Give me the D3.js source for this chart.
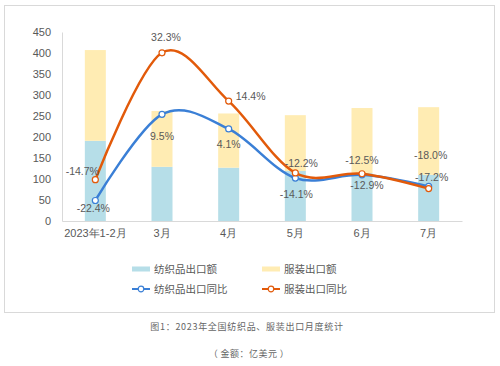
<!DOCTYPE html>
<html><head><meta charset="utf-8">
<script src="https://cdn.jsdelivr.net/npm/d3@7"></script>
<style>
html,body{margin:0;padding:0;background:#fff;}
svg{display:block;font-family:"Noto Sans CJK SC","Noto Sans",sans-serif;}
</style></head>
<body>
<svg id="chart" width="500" height="366"></svg>
<script>
const categories = ["2023年1-2月","3月","4月","5月","6月","7月"];
const textileExport = [191, 129, 127, 119, 114, 110];
const apparelExport = [216, 133, 129, 133, 155, 161];
const textileYoY = [-22.4, 9.5, 4.1, -14.1, -12.9, -17.2];
const apparelYoY = [-14.7, 32.3, 14.4, -12.2, -12.5, -18.0];
const yTicks = [0,50,100,150,200,250,300,350,400,450];
const seriesNames = ["纺织品出口额","服装出口额","纺织品出口同比","服装出口同比"];
const captionText = "图1：2023年全国纺织品、服装出口月度统计";
const unitText = "（金额：亿美元）";

(function(){
const colors = {textile:"#b6dee8", apparel:"#ffecb3", tLine:"#3a7fd6", aLine:"#e25a0a", text:"#595959"};
const svg = d3.select("#chart");

// frame
svg.append("rect").attr("x",4.5).attr("y",5.5).attr("width",490).attr("height",307)
  .attr("fill","#fff").attr("stroke","#d9d9d9").attr("stroke-width",1);

const pLeft=62, pRight=462, pTop=32, pBottom=221;
const x = d3.scaleBand().domain(categories).range([pLeft,pRight]).paddingInner(0.685).paddingOuter(0.3425);
const y = d3.scaleLinear().domain([0,450]).range([pBottom,pTop]);
const y2 = d3.scaleLinear().domain([-30,40]).range([pBottom,pTop]);
const cx = c => x(c)+x.bandwidth()/2;

// axes
const yAxis = d3.axisLeft(y).tickValues(yTicks).tickSize(0).tickPadding(11);
const gy = svg.append("g").attr("transform",`translate(${pLeft},0)`).call(yAxis);
gy.select(".domain").attr("stroke","#d9d9d9");
gy.selectAll("text").attr("fill",colors.text).attr("font-size",11).attr("font-family","Liberation Sans, Noto Sans CJK SC");

const xAxis = d3.axisBottom(x).tickSize(0).tickPadding(8);
const gx = svg.append("g").attr("transform",`translate(0,${pBottom})`).call(xAxis);
gx.select(".domain").attr("stroke","#d9d9d9");
gx.selectAll("text").attr("fill",colors.text).attr("font-size",11);

// stacked bars
const stackData = categories.map((c,i)=>({cat:c, textile:textileExport[i], apparel:apparelExport[i]}));
const stack = d3.stack().keys(["textile","apparel"])(stackData);
svg.append("g").selectAll("g").data(stack).join("g")
  .attr("fill",d=>colors[d.key])
  .selectAll("rect").data(d=>d).join("rect")
  .attr("x",d=>x(d.data.cat)).attr("width",x.bandwidth())
  .attr("y",d=>y(d[1])).attr("height",d=>y(d[0])-y(d[1]));

// lines
const line = d3.line().x(d=>cx(d.c)).y(d=>y2(d.v)).curve(d3.curveCatmullRom.alpha(0));
function drawLine(vals,color){
  const pts = categories.map((c,i)=>({c, v:vals[i]}));
  svg.append("path").datum(pts).attr("d",line).attr("fill","none")
    .attr("stroke",color).attr("stroke-width",2.5);
  svg.append("g").selectAll("circle").data(pts).join("circle")
    .attr("cx",d=>cx(d.c)).attr("cy",d=>y2(d.v)).attr("r",3)
    .attr("fill","#fff").attr("stroke",color).attr("stroke-width",1.2);
  return pts;
}
const tPts = drawLine(textileYoY, colors.tLine);
const aPts = drawLine(apparelYoY, colors.aLine);

// data labels (offsets relative to point)
const aOff = [[-13,-5],[4,-12],[22,-1],[6,-6],[0,-10],[2,-30]];
const tOff = [[-2,12],[0,26],[0,19],[1,20],[5,14],[3,-5]];
function labels(pts, off){
  svg.append("g").selectAll("text").data(pts).join("text")
    .attr("x",(d,i)=>cx(d.c)+off[i][0]).attr("y",(d,i)=>y2(d.v)+off[i][1])
    .attr("text-anchor","middle").attr("font-size",10.5).attr("fill",colors.text)
    .attr("font-family","Liberation Sans, Noto Sans CJK SC")
    .text(d=>d.v.toFixed(1)+"%");
}
labels(aPts,aOff);
labels(tPts,tOff);

// legend
const legend = [
  {name:seriesNames[0], type:"bar", color:colors.textile, x:132, y:269},
  {name:seriesNames[1], type:"bar", color:colors.apparel, x:262, y:269},
  {name:seriesNames[2], type:"line", color:colors.tLine, x:132, y:289},
  {name:seriesNames[3], type:"line", color:colors.aLine, x:262, y:289}
];
const lg = svg.append("g").selectAll("g").data(legend).join("g")
  .attr("transform",d=>`translate(${d.x},${d.y})`);
lg.filter(d=>d.type==="bar").append("rect").attr("x",0).attr("y",-2.5).attr("width",18).attr("height",5).attr("fill",d=>d.color);
lg.filter(d=>d.type==="line").append("line").attr("x1",0).attr("x2",18).attr("y1",0).attr("y2",0).attr("stroke",d=>d.color).attr("stroke-width",2);
lg.filter(d=>d.type==="line").append("circle").attr("cx",9).attr("cy",0).attr("r",2.8).attr("fill","#fff").attr("stroke",d=>d.color).attr("stroke-width",1.2);
lg.append("text").attr("x",22).attr("y",4).attr("font-size",10.5).attr("fill",colors.text).text(d=>d.name);

// caption
svg.append("text").attr("x",247).attr("y",330).attr("text-anchor","middle").attr("font-size",9)
  .attr("letter-spacing",0.7).attr("fill","#666").text(captionText);
svg.append("text").attr("x",249).attr("y",357).attr("text-anchor","middle").attr("font-size",9)
  .attr("letter-spacing",0.5).attr("fill","#666").text("（\u2009金额：亿美元\u2009）");
})();
</script>
</body></html>
